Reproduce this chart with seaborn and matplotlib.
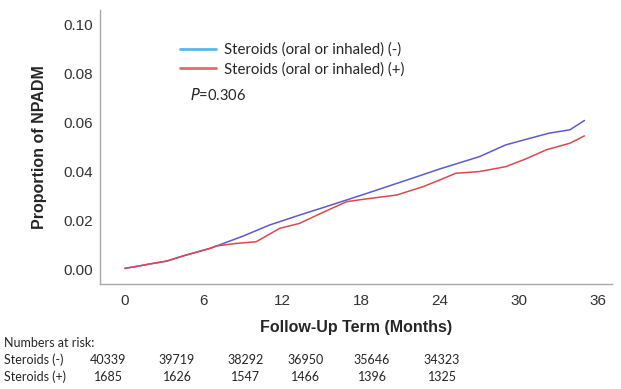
import matplotlib
matplotlib.use("Agg")
import matplotlib.pyplot as plt
import seaborn as sns
import pandas as pd
from matplotlib.lines import Line2D

# Cumulative proportion of NPADM by follow-up month
months_neg = [0, 1, 2, 3.2, 4.5, 6.5, 7, 9, 11, 13.3, 15, 16.9, 19, 21.9, 24, 27, 29, 30.5, 32.3, 33.9, 35]
prop_neg = [0.0003, 0.0012, 0.0022, 0.0033, 0.0055, 0.0085, 0.0095, 0.0135, 0.0180, 0.0221, 0.0250, 0.0283, 0.0320, 0.0372, 0.0410, 0.0460, 0.0508, 0.0530, 0.0556, 0.0570, 0.0608]

months_pos = [0, 1, 2, 3.2, 4.5, 6.5, 7, 8.5, 10, 11.8, 13.3, 15, 16.9, 18.5, 20.7, 22.7, 24, 25.2, 27, 29, 30.5, 32.1, 33.9, 35]
prop_pos = [0.0003, 0.0012, 0.0022, 0.0033, 0.0055, 0.0085, 0.0095, 0.0105, 0.0112, 0.0167, 0.0187, 0.0230, 0.0276, 0.0288, 0.0303, 0.0337, 0.0365, 0.0392, 0.0399, 0.0419, 0.0450, 0.0488, 0.0515, 0.0545]

x_ticks = [0, 6, 12, 18, 24, 30, 36]
y_ticks = [0.00, 0.02, 0.04, 0.06, 0.08, 0.10]

groups = ["Steroids (oral or inhaled) (-)", "Steroids (oral or inhaled) (+)"]
risk_labels = ["Steroids (-)", "Steroids (+)"]
risk_neg = [40339, 39719, 38292, 36950, 35646, 34323]
risk_pos = [1685, 1626, 1547, 1466, 1396, 1325]
p_value = "0.306"

df = pd.concat([
    pd.DataFrame({"month": months_neg, "prop": prop_neg, "group": groups[0]}),
    pd.DataFrame({"month": months_pos, "prop": prop_pos, "group": groups[1]}),
])

sns.set_style("white")
plt.rcParams["font.family"] = ["Liberation Sans", "DejaVu Sans"]

fig = plt.figure(figsize=(6.21, 3.89), dpi=100)
ax = fig.add_axes([100 / 621, 1 - 284 / 389, 512 / 621, 274 / 389])

line_colors = {groups[0]: "#5a5ad6", groups[1]: "#e0474c"}
sns.lineplot(data=df, x="month", y="prop", hue="group", palette=line_colors,
             ax=ax, linewidth=1.1, legend=False, estimator=None, sort=True)

ax.set_xlim(-1.9, 37.1)
ax.set_ylim(-0.0061, 0.106)
ax.set_xticks(x_ticks)
ax.set_xticklabels([str(t) for t in x_ticks])
ax.set_yticks(y_ticks)
ax.set_yticklabels([f"{t:.2f}" for t in y_ticks])
ax.tick_params(axis="both", length=0, labelsize=11, labelcolor="#333333")
ax.tick_params(axis="x", pad=7)
ax.tick_params(axis="y", pad=5)
for side in ["top", "right"]:
    ax.spines[side].set_visible(False)
for side in ["left", "bottom"]:
    ax.spines[side].set_color("#aaaaaa")
    ax.spines[side].set_linewidth(1.0)

ax.set_xlabel("Follow-Up Term (Months)", fontsize=11.5, fontweight="bold", labelpad=9)
ax.set_ylabel("Proportion of NPADM", fontsize=11.5, fontweight="bold", labelpad=12)

handles = [Line2D([], [], color="#5ab4ee", lw=2),
           Line2D([], [], color="#e8686c", lw=2)]
ax.legend(handles, groups, loc="upper left", bbox_to_anchor=(0.13, 0.93),
          frameon=False, handlelength=2.4, handletextpad=0.5, labelspacing=0.35,
          prop={"family": ["Lato", "DejaVu Sans"], "size": 10.8})

fig.text(190 / 621, 1 - 95 / 389, "$P$=" + p_value, fontsize=10.5,
         family=["Lato", "DejaVu Sans"], va="center")

# Numbers-at-risk table
tfam = ["Lato", "DejaVu Sans"]
fig.text(4 / 621, 1 - 343 / 389, "Numbers at risk:", fontsize=9, family=tfam, va="center")
col_x = [108, 177, 246, 306, 372, 442]
for row, (label, vals) in enumerate(zip(risk_labels, [risk_neg, risk_pos])):
    y = 1 - (360 + row * 17) / 389
    fig.text(4 / 621, y, label, fontsize=9, family=tfam, va="center")
    for cx, v in zip(col_x, vals):
        fig.text(cx / 621, y, str(v), fontsize=9, family=tfam, va="center", ha="center")

fig.savefig("out.png", dpi=100)
